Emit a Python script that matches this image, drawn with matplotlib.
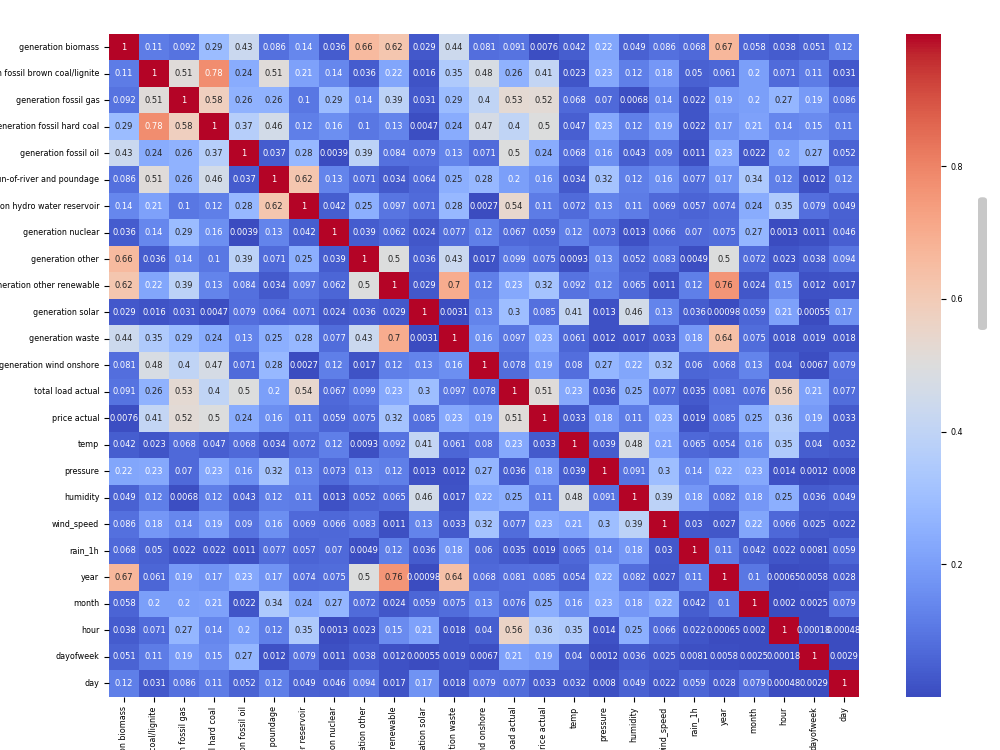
import numpy as np
import pandas as pd
import matplotlib
matplotlib.use("Agg")
import matplotlib.pyplot as plt
from matplotlib.patches import FancyBboxPatch
import seaborn as sns

labels = ['generation biomass', 'generation fossil brown coal/lignite', 'generation fossil gas',
          'generation fossil hard coal', 'generation fossil oil',
          'generation hydro run-of-river and poundage', 'generation hydro water reservoir',
          'generation nuclear', 'generation other', 'generation other renewable',
          'generation solar', 'generation waste', 'generation wind onshore',
          'total load actual', 'price actual', 'temp', 'pressure', 'humidity',
          'wind_speed', 'rain_1h', 'year', 'month', 'hour', 'dayofweek', 'day']

# absolute correlations, read row by row
corr_rows = [
    [1, 0.11, 0.092, 0.29, 0.43, 0.086, 0.14, 0.036, 0.66, 0.62, 0.029, 0.44, 0.081, 0.091, 0.0076, 0.042, 0.22, 0.049, 0.086, 0.068, 0.67, 0.058, 0.038, 0.051, 0.12],
    [0.11, 1, 0.51, 0.78, 0.24, 0.51, 0.21, 0.14, 0.036, 0.22, 0.016, 0.35, 0.48, 0.26, 0.41, 0.023, 0.23, 0.12, 0.18, 0.05, 0.061, 0.2, 0.071, 0.11, 0.031],
    [0.092, 0.51, 1, 0.58, 0.26, 0.26, 0.1, 0.29, 0.14, 0.39, 0.031, 0.29, 0.4, 0.53, 0.52, 0.068, 0.07, 0.0068, 0.14, 0.022, 0.19, 0.2, 0.27, 0.19, 0.086],
    [0.29, 0.78, 0.58, 1, 0.37, 0.46, 0.12, 0.16, 0.1, 0.13, 0.0047, 0.24, 0.47, 0.4, 0.5, 0.047, 0.23, 0.12, 0.19, 0.022, 0.17, 0.21, 0.14, 0.15, 0.11],
    [0.43, 0.24, 0.26, 0.37, 1, 0.037, 0.28, 0.0039, 0.39, 0.084, 0.079, 0.13, 0.071, 0.5, 0.24, 0.068, 0.16, 0.043, 0.09, 0.011, 0.23, 0.022, 0.2, 0.27, 0.052],
    [0.086, 0.51, 0.26, 0.46, 0.037, 1, 0.62, 0.13, 0.071, 0.034, 0.064, 0.25, 0.28, 0.2, 0.16, 0.034, 0.32, 0.12, 0.16, 0.077, 0.17, 0.34, 0.12, 0.012, 0.12],
    [0.14, 0.21, 0.1, 0.12, 0.28, 0.62, 1, 0.042, 0.25, 0.097, 0.071, 0.28, 0.0027, 0.54, 0.11, 0.072, 0.13, 0.11, 0.069, 0.057, 0.074, 0.24, 0.35, 0.079, 0.049],
    [0.036, 0.14, 0.29, 0.16, 0.0039, 0.13, 0.042, 1, 0.039, 0.062, 0.024, 0.077, 0.12, 0.067, 0.059, 0.12, 0.073, 0.013, 0.066, 0.07, 0.075, 0.27, 0.0013, 0.011, 0.046],
    [0.66, 0.036, 0.14, 0.1, 0.39, 0.071, 0.25, 0.039, 1, 0.5, 0.036, 0.43, 0.017, 0.099, 0.075, 0.0093, 0.13, 0.052, 0.083, 0.0049, 0.5, 0.072, 0.023, 0.038, 0.094],
    [0.62, 0.22, 0.39, 0.13, 0.084, 0.034, 0.097, 0.062, 0.5, 1, 0.029, 0.7, 0.12, 0.23, 0.32, 0.092, 0.12, 0.065, 0.011, 0.12, 0.76, 0.024, 0.15, 0.012, 0.017],
    [0.029, 0.016, 0.031, 0.0047, 0.079, 0.064, 0.071, 0.024, 0.036, 0.029, 1, 0.0031, 0.13, 0.3, 0.085, 0.41, 0.013, 0.46, 0.13, 0.036, 0.00098, 0.059, 0.21, 0.00055, 0.17],
    [0.44, 0.35, 0.29, 0.24, 0.13, 0.25, 0.28, 0.077, 0.43, 0.7, 0.0031, 1, 0.16, 0.097, 0.23, 0.061, 0.012, 0.017, 0.033, 0.18, 0.64, 0.075, 0.018, 0.019, 0.018],
    [0.081, 0.48, 0.4, 0.47, 0.071, 0.28, 0.0027, 0.12, 0.017, 0.12, 0.13, 0.16, 1, 0.078, 0.19, 0.08, 0.27, 0.22, 0.32, 0.06, 0.068, 0.13, 0.04, 0.0067, 0.079],
    [0.091, 0.26, 0.53, 0.4, 0.5, 0.2, 0.54, 0.067, 0.099, 0.23, 0.3, 0.097, 0.078, 1, 0.51, 0.23, 0.036, 0.25, 0.077, 0.035, 0.081, 0.076, 0.56, 0.21, 0.077],
    [0.0076, 0.41, 0.52, 0.5, 0.24, 0.16, 0.11, 0.059, 0.075, 0.32, 0.085, 0.23, 0.19, 0.51, 1, 0.033, 0.18, 0.11, 0.23, 0.019, 0.085, 0.25, 0.36, 0.19, 0.033],
    [0.042, 0.023, 0.068, 0.047, 0.068, 0.034, 0.072, 0.12, 0.0093, 0.092, 0.41, 0.061, 0.08, 0.23, 0.033, 1, 0.039, 0.48, 0.21, 0.065, 0.054, 0.16, 0.35, 0.04, 0.032],
    [0.22, 0.23, 0.07, 0.23, 0.16, 0.32, 0.13, 0.073, 0.13, 0.12, 0.013, 0.012, 0.27, 0.036, 0.18, 0.039, 1, 0.091, 0.3, 0.14, 0.22, 0.23, 0.014, 0.0012, 0.008],
    [0.049, 0.12, 0.0068, 0.12, 0.043, 0.12, 0.11, 0.013, 0.052, 0.065, 0.46, 0.017, 0.22, 0.25, 0.11, 0.48, 0.091, 1, 0.39, 0.18, 0.082, 0.18, 0.25, 0.036, 0.049],
    [0.086, 0.18, 0.14, 0.19, 0.09, 0.16, 0.069, 0.066, 0.083, 0.011, 0.13, 0.033, 0.32, 0.077, 0.23, 0.21, 0.3, 0.39, 1, 0.03, 0.027, 0.22, 0.066, 0.025, 0.022],
    [0.068, 0.05, 0.022, 0.022, 0.011, 0.077, 0.057, 0.07, 0.0049, 0.12, 0.036, 0.18, 0.06, 0.035, 0.019, 0.065, 0.14, 0.18, 0.03, 1, 0.11, 0.042, 0.022, 0.0081, 0.059],
    [0.67, 0.061, 0.19, 0.17, 0.23, 0.17, 0.074, 0.075, 0.5, 0.76, 0.00098, 0.64, 0.068, 0.081, 0.085, 0.054, 0.22, 0.082, 0.027, 0.11, 1, 0.1, 0.00065, 0.0058, 0.028],
    [0.058, 0.2, 0.2, 0.21, 0.022, 0.34, 0.24, 0.27, 0.072, 0.024, 0.059, 0.075, 0.13, 0.076, 0.25, 0.16, 0.23, 0.18, 0.22, 0.042, 0.1, 1, 0.002, 0.0025, 0.079],
    [0.038, 0.071, 0.27, 0.14, 0.2, 0.12, 0.35, 0.0013, 0.023, 0.15, 0.21, 0.018, 0.04, 0.56, 0.36, 0.35, 0.014, 0.25, 0.066, 0.022, 0.00065, 0.002, 1, 0.00018, 0.00048],
    [0.051, 0.11, 0.19, 0.15, 0.27, 0.012, 0.079, 0.011, 0.038, 0.012, 0.00055, 0.019, 0.0067, 0.21, 0.19, 0.04, 0.0012, 0.036, 0.025, 0.0081, 0.0058, 0.0025, 0.00018, 1, 0.0029],
    [0.12, 0.031, 0.086, 0.11, 0.052, 0.12, 0.049, 0.046, 0.094, 0.017, 0.17, 0.018, 0.079, 0.077, 0.033, 0.032, 0.008, 0.049, 0.022, 0.059, 0.028, 0.079, 0.00048, 0.0029, 1],
]

corr = pd.DataFrame(corr_rows, index=labels, columns=labels)

fig = plt.figure(figsize=(10, 7.5), dpi=100)
ax = fig.add_axes([0.109, 0.071, 0.750, 0.884])
cax = fig.add_axes([0.906, 0.071, 0.035, 0.884])

# diagonal of a computed corr sits just under 1, so no 1.0 tick on the bar
sns.heatmap(corr, annot=True, cmap='coolwarm', ax=ax, cbar_ax=cax,
            vmax=0.9999, annot_kws={'fontsize': 6})
ax.tick_params(axis='both', labelsize=5.8)
cax.tick_params(labelsize=5.8)

# grey scrollbar from the screenshot
fig.patches.append(FancyBboxPatch((0.978, 0.56), 0.009, 0.177,
                                  boxstyle="round,pad=0,rounding_size=0.004",
                                  transform=fig.transFigure, color='#c8c8c8',
                                  linewidth=0))

plt.savefig('out.png', dpi=100)
